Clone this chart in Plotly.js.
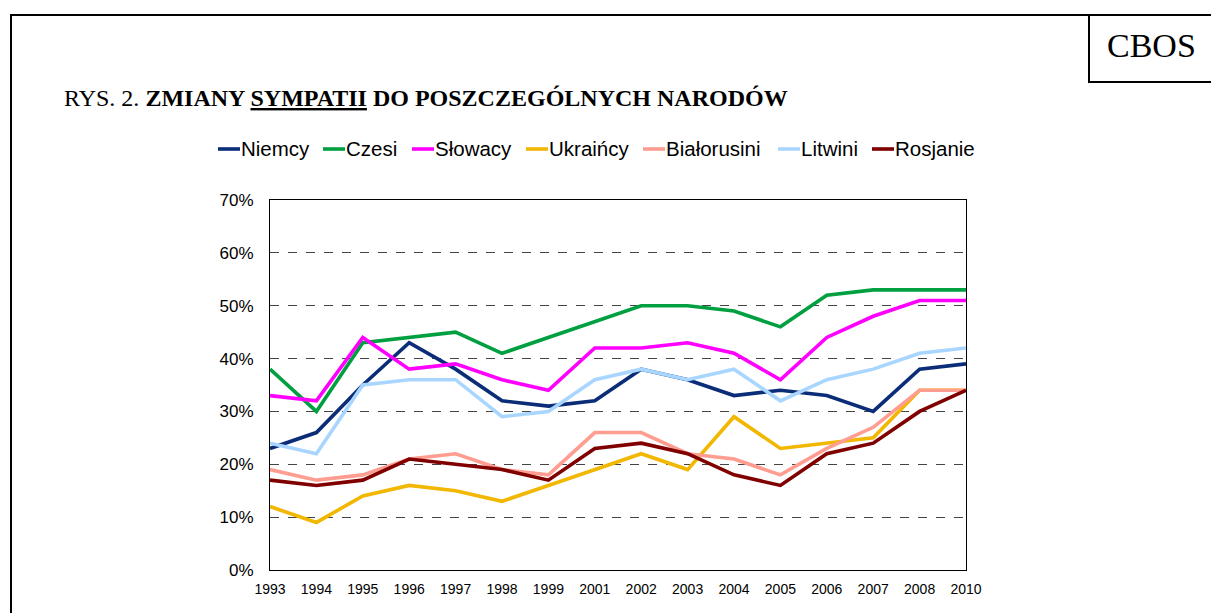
<!DOCTYPE html>
<html>
<head>
<meta charset="utf-8">
<script src="https://cdn.plot.ly/plotly-3.0.1.min.js"></script>
<style>
html,body{margin:0;padding:0;background:#fff;}
#wrap{position:relative;width:1211px;height:613px;overflow:hidden;}
#chart{position:absolute;left:0;top:0;width:1211px;height:613px;}
.ln{position:absolute;background:#000;}
</style>
</head>
<body>
<div id="wrap">
<div id="chart"></div>
<div class="ln" style="left:10px;top:14px;width:1201px;height:2px;"></div>
<div class="ln" style="left:10px;top:14px;width:2px;height:599px;"></div>
<div class="ln" style="left:1088px;top:14px;width:2px;height:68px;"></div>
<div class="ln" style="left:1088px;top:81px;width:123px;height:2px;"></div>
</div>
<script>
const years = ['1993','1994','1995','1996','1997','1998','1999','2001','2002','2003','2004','2005','2006','2007','2008','2010'];
const niemcy      = [23,26,35,43,38,32,31,32,38,36,33,34,33,30,38,39];
const czesi       = [38,30,43,44,45,41,44,47,50,50,49,46,52,53,53,53];
const slowacy     = [33,32,44,38,39,36,34,42,42,43,41,36,44,48,51,51];
const ukraincy    = [12,9,14,16,15,13,16,19,22,19,29,23,24,25,34,34];
const bialorusini = [19,17,18,21,22,19,18,26,26,22,21,18,23,27,34,34];
const litwini     = [24,22,35,36,36,29,30,36,38,36,38,32,36,38,41,42];
const rosjanie    = [17,16,17,21,20,19,17,23,24,22,18,16,22,24,30,34];
const yTicks = [0,10,20,30,40,50,60,70];

const series = [
  ['Niemcy', niemcy, '#0b2d78'],
  ['Czesi', czesi, '#00a040'],
  ['Słowacy', slowacy, '#ff00ff'],
  ['Ukraińcy', ukraincy, '#f2b700'],
  ['Białorusini', bialorusini, '#ff9d90'],
  ['Litwini', litwini, '#a8d6ff'],
  ['Rosjanie', rosjanie, '#800000']
];

// plot area in pixels (for placing decorations)
const PL = 270, PR = 966, PT = 200, PB = 570;
const px = v => (v - PL) / (PR - PL);
const py = v => (PB - v) / (PB - PT);

const traces = series.map(s => ({
  type: 'scatter', mode: 'lines', name: s[0], x: years, y: s[1],
  line: {color: s[2], width: 3.6}, hoverinfo: 'skip', showlegend: false
}));

// custom legend (short line samples like the original)
const legendStart = [218, 323, 412, 526, 643, 778, 872];
const legendY = 149;
const shapes = [];
const annotations = [];
series.forEach((s, i) => {
  const x0 = legendStart[i];
  shapes.push({type: 'line', xref: 'paper', yref: 'paper', x0: px(x0), x1: px(x0 + 22), y0: py(legendY), y1: py(legendY),
               line: {color: s[2], width: 3.6}});
  annotations.push({xref: 'paper', yref: 'paper', x: px(x0 + 22), y: py(legendY - 1), xanchor: 'left', yanchor: 'middle',
                    showarrow: false, text: s[0], borderpad: 0,
                    font: {family: 'Liberation Sans, Arial, sans-serif', size: 20.5, color: '#000'}});
});

annotations.push(
  {xref: 'paper', yref: 'paper', x: px(62), y: py(98), xanchor: 'left', yanchor: 'middle',
   showarrow: false, text: 'RYS. 2. <b>ZMIANY <u>SYMPATII</u> DO POSZCZEGÓLNYCH NARODÓW</b>',
   font: {family: 'Liberation Serif, Times New Roman, serif', size: 24, color: '#000'}},
  {xref: 'paper', yref: 'paper', x: px(1151), y: py(45), xanchor: 'center', yanchor: 'middle',
   showarrow: false, text: 'CBOS',
   font: {family: 'Liberation Serif, Times New Roman, serif', size: 34, color: '#000'}}
);

const layout = {
  width: 1211, height: 613,
  margin: {l: PL, r: 1211 - PR, t: PT, b: 613 - PB, pad: 0},
  paper_bgcolor: '#fff', plot_bgcolor: '#fff',
  showlegend: false,
  xaxis: {
    type: 'category', range: [0, years.length - 1],
    showgrid: false, zeroline: false, showline: true, linecolor: '#000', linewidth: 1, mirror: true,
    ticks: 'outside', ticklen: 6, tickcolor: 'rgba(0,0,0,0)',
    tickfont: {family: 'Liberation Sans, Arial, sans-serif', size: 14, color: '#000'},
    fixedrange: true
  },
  yaxis: {
    range: [0, 70], tickvals: yTicks, ticktext: yTicks.map(v => v + '%'),
    showgrid: true, gridcolor: '#444', griddash: 'dash', gridwidth: 1,
    zeroline: false, showline: true, linecolor: '#000', linewidth: 1, mirror: true,
    ticks: 'outside', ticklen: 12, tickcolor: 'rgba(0,0,0,0)',
    tickfont: {family: 'Liberation Sans, Arial, sans-serif', size: 17, color: '#000'},
    fixedrange: true
  },
  shapes: shapes,
  annotations: annotations
};

Plotly.newPlot('chart', traces, layout, {displayModeBar: false, staticPlot: true});
</script>
</body>
</html>
